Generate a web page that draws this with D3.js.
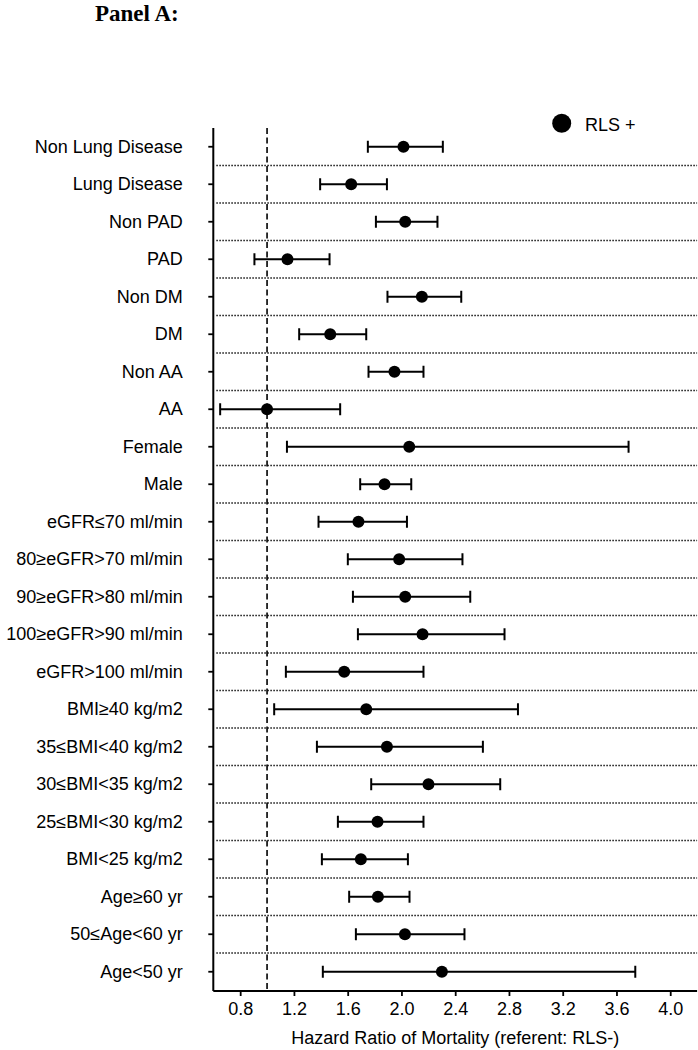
<!DOCTYPE html>
<html>
<head>
<meta charset="utf-8">
<script src="https://cdn.jsdelivr.net/npm/d3@7"></script>
<style>
  html, body { margin: 0; padding: 0; background: #fff; }
  svg { display: block; }
  text { font-family: "Liberation Sans", Arial, sans-serif; fill: #000; }
</style>
</head>
<body>
<div id="chart"></div>
<script>
// ---------- data ----------
const categories = [
  "Non Lung Disease", "Lung Disease", "Non PAD", "PAD", "Non DM", "DM",
  "Non AA", "AA", "Female", "Male",
  "eGFR≤70 ml/min", "80≥eGFR>70 ml/min", "90≥eGFR>80 ml/min",
  "100≥eGFR>90 ml/min", "eGFR>100 ml/min",
  "BMI≥40 kg/m2", "35≤BMI<40 kg/m2", "30≤BMI<35 kg/m2", "25≤BMI<30 kg/m2", "BMI<25 kg/m2",
  "Age≥60 yr", "50≤Age<60 yr", "Age<50 yr"
];
const hr = [2.015, 1.626, 2.028, 1.152, 2.152, 1.470, 1.948, 1.000, 2.058, 1.874,
            1.680, 1.983, 2.028, 2.157, 1.574, 1.738, 1.892, 2.201, 1.822, 1.698,
            1.825, 2.026, 2.301];
const lower = [1.750, 1.395, 1.810, 0.906, 1.896, 1.239, 1.755, 0.651, 1.148, 1.693,
               1.383, 1.601, 1.639, 1.676, 1.140, 1.053, 1.371, 1.775, 1.527, 1.408,
               1.611, 1.661, 1.415];
const upper = [2.308, 1.892, 2.268, 1.465, 2.445, 1.738, 2.164, 1.544, 3.690, 2.073,
               2.041, 2.454, 2.512, 2.767, 2.164, 2.867, 2.606, 2.735, 2.164, 2.048,
               2.060, 2.469, 3.740];
const xTicks = [0.8, 1.2, 1.6, 2.0, 2.4, 2.8, 3.2, 3.6, 4.0];
const xDomain = [0.6, 4.2];
const referenceValue = 1.0;
const titleText = "Panel A:";
const xAxisTitle = "Hazard Ratio of Mortality (referent: RLS-)";
const legendLabel = "RLS +";

// ---------- layout ----------
const W = 698, H = 1050;
const plotLeft = 213.3, plotRight = 697.1, plotTop = 128, plotBottom = 991;

const svg = d3.select("#chart").append("svg")
  .attr("width", W).attr("height", H);

svg.append("rect").attr("width", W).attr("height", H).attr("fill", "#fff");

const x = d3.scaleLinear().domain(xDomain).range([plotLeft, plotRight]);
const y = d3.scaleBand().domain(categories).range([plotTop, plotBottom - 0.5]).padding(0);
const cy = d => y(d) + y.bandwidth() / 2;

const rows = categories.map((c, i) => ({ c, hr: hr[i], lo: lower[i], hi: upper[i] }));

// Title
svg.append("text")
  .attr("x", 95).attr("y", 20.5)
  .style("font-family", "'Liberation Serif', 'Times New Roman', serif")
  .style("font-weight", "bold")
  .style("font-size", "23px")
  .text(titleText);

// dotted separators between rows
const seps = categories.slice(0, -1).map(c => y(c) + y.bandwidth());
svg.append("g").selectAll("line").data(seps).join("line")
  .attr("x1", plotLeft + 3).attr("x2", plotRight)
  .attr("y1", d => d).attr("y2", d => d)
  .attr("stroke", "#222").attr("stroke-width", 1.6)
  .attr("stroke-dasharray", "1.6,1.4");

// reference dashed line
svg.append("line")
  .attr("x1", x(referenceValue)).attr("x2", x(referenceValue))
  .attr("y1", plotTop).attr("y2", plotBottom)
  .attr("stroke", "#000").attr("stroke-width", 1.6)
  .attr("stroke-dasharray", "6,3.5");

// axes
const xAxis = d3.axisBottom(x).tickValues(xTicks).tickFormat(d3.format(".1f"))
  .tickSize(5).tickSizeOuter(0).tickPadding(6);
const gx = svg.append("g").attr("transform", `translate(0,${plotBottom})`).call(xAxis);
gx.select(".domain").attr("stroke-width", 2).attr("d", `M${plotLeft},0H${plotRight}`);
gx.selectAll(".tick line").attr("stroke-width", 1.8);
gx.selectAll(".tick text").style("font-size", "18px").style("font-family", "'Liberation Sans', Arial, sans-serif");

const yAxis = d3.axisLeft(y).tickSize(5).tickSizeOuter(0).tickPadding(25.5);
const gy = svg.append("g").attr("transform", `translate(${plotLeft},0)`).call(yAxis);
gy.select(".domain").attr("stroke-width", 2).attr("d", `M0,${plotTop}V${plotBottom}`);
gy.selectAll(".tick line").attr("stroke-width", 1.8);
gy.selectAll(".tick text").style("font-size", "18px").style("font-family", "'Liberation Sans', Arial, sans-serif");

// error bars
const eb = svg.append("g").selectAll("g").data(rows).join("g");
eb.append("line")
  .attr("x1", d => x(d.lo)).attr("x2", d => x(d.hi))
  .attr("y1", d => cy(d.c)).attr("y2", d => cy(d.c))
  .attr("stroke", "#000").attr("stroke-width", 2);
eb.append("line")
  .attr("x1", d => x(d.lo)).attr("x2", d => x(d.lo))
  .attr("y1", d => cy(d.c) - 6).attr("y2", d => cy(d.c) + 6)
  .attr("stroke", "#000").attr("stroke-width", 2);
eb.append("line")
  .attr("x1", d => x(d.hi)).attr("x2", d => x(d.hi))
  .attr("y1", d => cy(d.c) - 6).attr("y2", d => cy(d.c) + 6)
  .attr("stroke", "#000").attr("stroke-width", 2);
eb.append("circle")
  .attr("cx", d => x(d.hr)).attr("cy", d => cy(d.c)).attr("r", 6)
  .attr("fill", "#000");

// legend
svg.append("circle").attr("cx", 561.7).attr("cy", 123.3).attr("r", 9.5).attr("fill", "#000");
svg.append("text").attr("x", 585).attr("y", 131)
  .style("font-size", "18px").text(legendLabel);

// x axis title
svg.append("text")
  .attr("x", (plotLeft + plotRight) / 2).attr("y", 1043.5)
  .attr("text-anchor", "middle")
  .style("font-size", "18px")
  .text(xAxisTitle);
</script>
</body>
</html>
